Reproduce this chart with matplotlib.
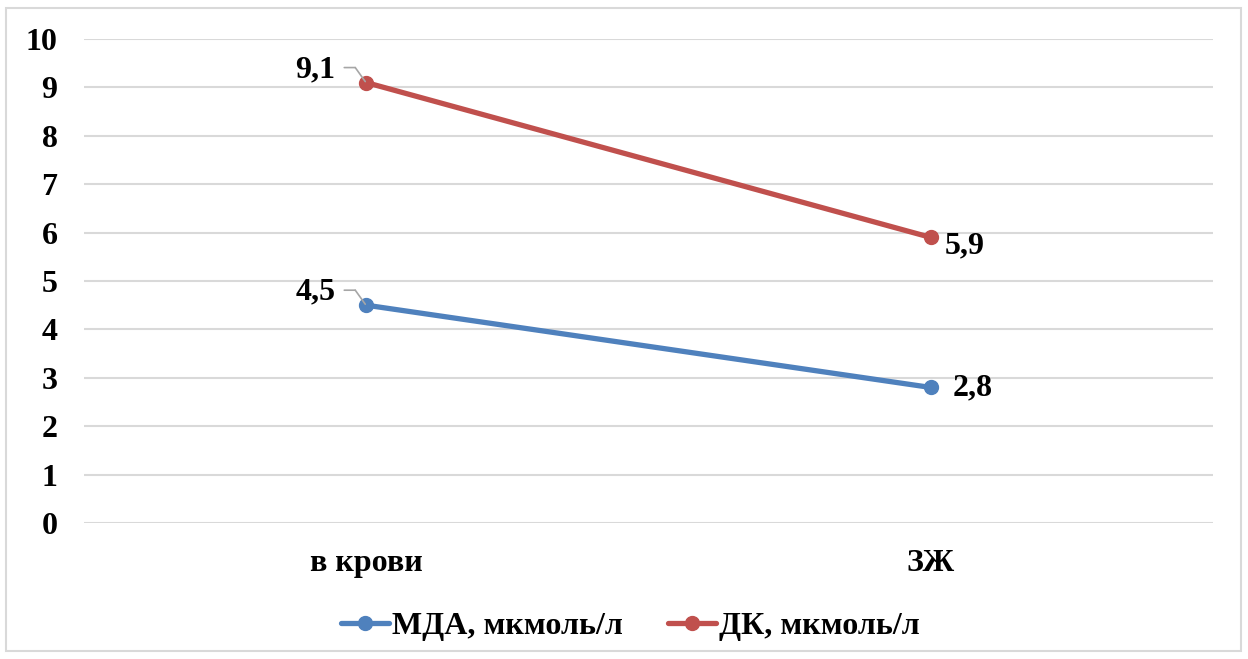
import matplotlib.pyplot as plt
import matplotlib.transforms as mtransforms
from matplotlib.patches import Rectangle

categories = ["в крови", "ЗЖ"]
mda = [4.5, 2.8]
dk = [9.1, 5.9]
series_names = ["МДА, мкмоль/л", "ДК, мкмоль/л"]
yticks = list(range(0, 11))

plt.rcParams['font.family'] = ['Liberation Serif', 'DejaVu Serif']
plt.rcParams['font.weight'] = 'bold'
FS = 23

fig = plt.figure(figsize=(12.48, 6.59), dpi=100)
ax = fig.add_axes([0.0673, 0.2064, 0.9047, 0.7344])

# light frame around the whole chart
fig.patches.append(Rectangle((6 / 1248, 8 / 659), 1235 / 1248, 643 / 659,
                             transform=fig.transFigure, fill=False,
                             edgecolor='#d9d9d9', linewidth=1.5))

x = range(len(categories))
blue = '#4f81bd'
red = '#c0504d'
ax.plot(x, mda, color=blue, linewidth=3.8, marker='o', markersize=10,
        label=series_names[0], solid_capstyle='round', zorder=3)
ax.plot(x, dk, color=red, linewidth=3.8, marker='o', markersize=10,
        label=series_names[1], solid_capstyle='round', zorder=3)

ax.set_xlim(-0.5, 1.5)
ax.set_ylim(0, 10)
ax.set_yticks(yticks)
ax.set_xticks(list(x))
ax.set_xticklabels(categories)
ax.tick_params(axis='both', length=0, labelsize=FS)
ax.tick_params(axis='y', pad=19)
ax.tick_params(axis='x', pad=19)
for lbl in ax.get_xticklabels() + ax.get_yticklabels():
    lbl.set_fontweight('bold')
ax.yaxis.grid(True, color='#d9d9d9', linewidth=1.5)
ax.set_axisbelow(True)
for s in ax.spines.values():
    s.set_visible(False)


def offset(dx, dy):
    return ax.transData + mtransforms.ScaledTranslation(dx / 100, dy / 100, fig.dpi_scale_trans)


def fmt(v):
    return f"{v:.1f}".replace('.', ',')


# left-side labels with gray leader lines
for vals in (dk, mda):
    v = vals[0]
    ax.text(0, v, fmt(v), transform=offset(-31, 13), ha='right', va='center',
            fontsize=FS, fontweight='bold', zorder=4)
    pts = [(-22, 15), (-11, 15), (-1, 1)]
    for (x0, y0), (x1, y1) in zip(pts[:-1], pts[1:]):
        ax.annotate('', xy=(0, v), xycoords=offset(x1, y1),
                    xytext=(0, v), textcoords=offset(x0, y0),
                    arrowprops=dict(arrowstyle='-', color='#a6a6a6', linewidth=1.2,
                                    shrinkA=0, shrinkB=0))

# right-side labels
ax.text(1, dk[1], fmt(dk[1]), transform=offset(14, -8), ha='left', va='center',
        fontsize=FS, fontweight='bold')
ax.text(1, mda[1], fmt(mda[1]), transform=offset(22, 0), ha='left', va='center',
        fontsize=FS, fontweight='bold')

fig.legend(loc='center', bbox_to_anchor=(0.505, 0.05), ncol=2, frameon=False,
           prop={'size': FS, 'weight': 'bold'}, handlelength=1.5,
           handletextpad=0.1, columnspacing=1.4)

fig.savefig('out.png', dpi=100)
